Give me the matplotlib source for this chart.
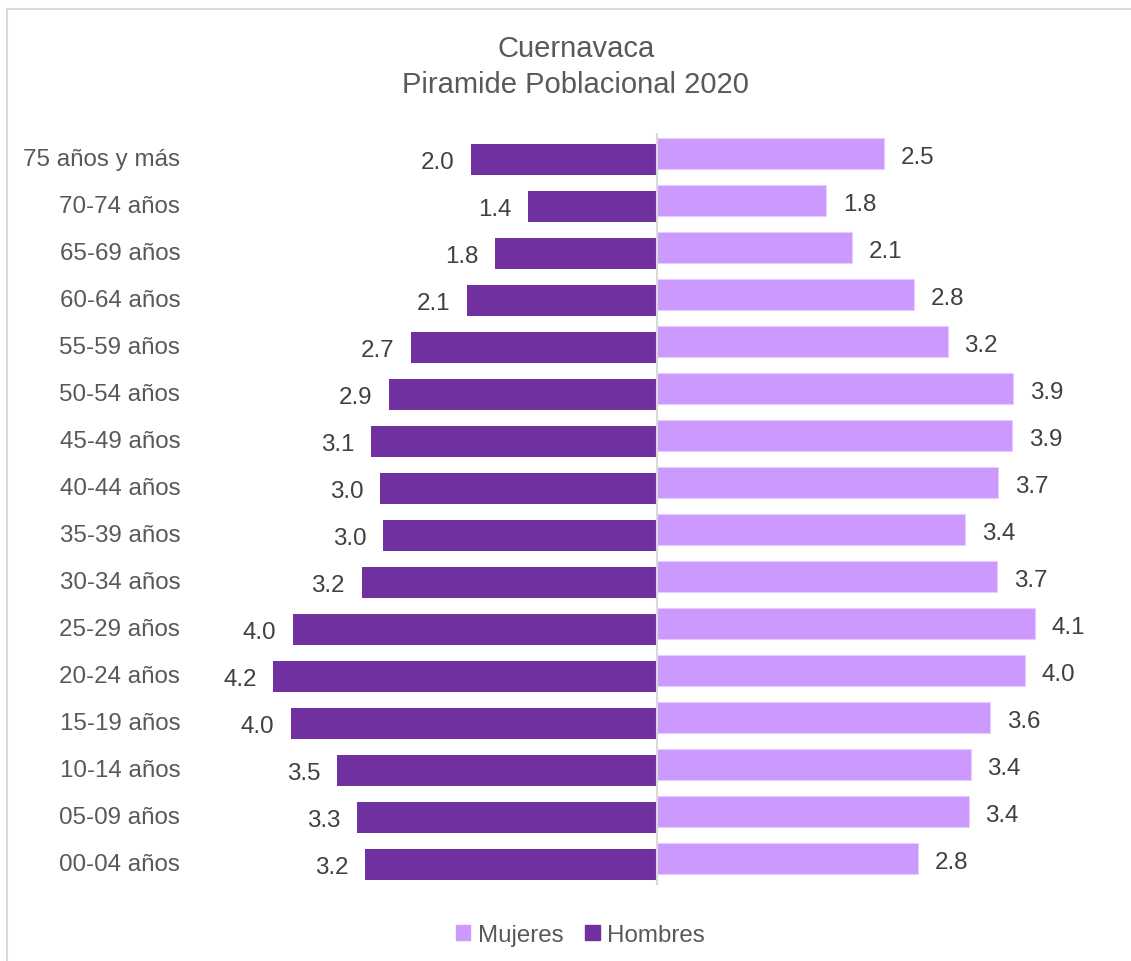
import matplotlib.pyplot as plt
import matplotlib.patches as mpatches
import numpy as np

plt.rcParams['font.family'] = ['Liberation Sans', 'DejaVu Sans']

# Grupos de edad, de abajo hacia arriba
edades = ['00-04 años', '05-09 años', '10-14 años', '15-19 años', '20-24 años',
          '25-29 años', '30-34 años', '35-39 años', '40-44 años', '45-49 años',
          '50-54 años', '55-59 años', '60-64 años', '65-69 años', '70-74 años',
          '75 años y más']
# porcentaje de poblacion
hombres = [3.17, 3.26, 3.48, 3.98, 4.17, 3.96, 3.21, 2.98, 3.01, 3.11,
           2.91, 2.67, 2.07, 1.76, 1.40, 2.02]
mujeres = [2.84, 3.39, 3.41, 3.62, 4.00, 4.11, 3.70, 3.35, 3.71, 3.86,
           3.87, 3.16, 2.79, 2.12, 1.84, 2.47]

c_hom = '#7030A0'
c_muj = '#CC99FF'
gris = '#595959'
fs = 17.4

fig = plt.figure(figsize=(11.31, 9.62), dpi=100)
ax = fig.add_axes([0.1742, 0.079, 0.8134, 0.7817])

y = np.arange(len(edades))
h = 0.66
off = 0.054
ax.barh(y - off, -np.array(hombres), height=h, color=c_hom, label='Hombres', zorder=2)
ax.barh(y + off, mujeres, height=h, color=c_muj, edgecolor='#E6CCFF', linewidth=0.8,
        label='Mujeres', zorder=2)

for i in range(len(edades)):
    ax.annotate('%.1f' % hombres[i], xy=(-hombres[i], y[i] - off), xytext=(-12, -2),
                textcoords='offset points', ha='right', va='center',
                fontsize=fs, color='#404040')
    ax.annotate('%.1f' % mujeres[i], xy=(mujeres[i], y[i] + off), xytext=(12, -2),
                textcoords='offset points', ha='left', va='center',
                fontsize=fs, color='#404040')

ax.axvline(0, color='#D9D9D9', lw=1.5, zorder=3)
ax.set_xlim(-5, 5)
ax.set_ylim(-0.5, len(edades) - 0.5)
ax.set_yticks(y)
ax.set_yticklabels(edades, fontsize=fs, color=gris)
ax.tick_params(axis='y', length=0, pad=12)
ax.set_xticks([])
for s in ax.spines.values():
    s.set_visible(False)

fig.text(0.509, 0.949, 'Cuernavaca', ha='center', va='center', fontsize=21, color=gris)
fig.text(0.509, 0.912, 'Piramide Poblacional 2020', ha='center', va='center',
         fontsize=21, color=gris)

handles = [mpatches.Patch(color=c_muj, label='Mujeres'),
           mpatches.Patch(color=c_hom, label='Hombres')]
fig.legend(handles=handles, loc='center', bbox_to_anchor=(0.513, 0.027), ncol=2,
           frameon=False, fontsize=fs, labelcolor=gris, handlelength=0.6,
           handleheight=0.6, handletextpad=0.3, columnspacing=0.9)

# marco del grafico
fig.patches.append(mpatches.Rectangle((7 / 1131, -0.01), 1.1, 1 - 10 / 962 + 0.01,
                                      transform=fig.transFigure, fill=False,
                                      edgecolor='#D9D9D9', lw=1.5))

fig.savefig('out.png', dpi=100)
